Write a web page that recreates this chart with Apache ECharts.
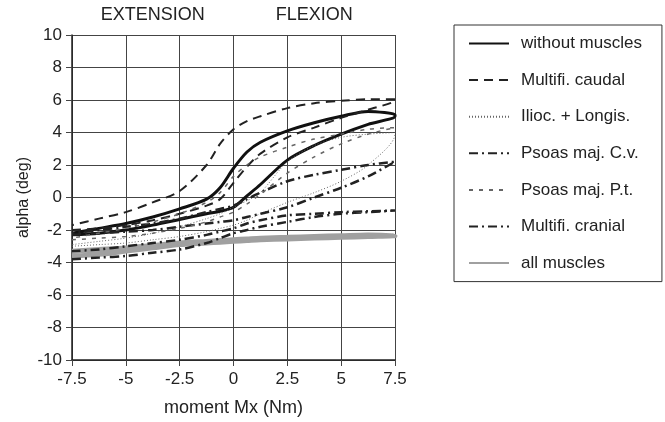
<!DOCTYPE html>
<html>
<head>
<meta charset="utf-8">
<script src="https://cdn.jsdelivr.net/npm/echarts@6/dist/echarts.min.js"></script>
<style>html,body{margin:0;padding:0;background:#fff}#c{width:665px;height:422px}</style>
</head>
<body>
<div id="c"></div>
<script>
// moment Mx (Nm) sample positions (shared by all curves)
var moments = [-7.5,-6.25,-5,-3.75,-2.5,-1.25,-0.625,0,0.625,1.25,2.5,3.75,5,6.25,7.5];
// alpha (deg): loading branch (from -7.5 to 7.5) and unloading branch (same x order)
var noMuscLoad   = [-2.3,-2.2,-2.0,-1.7,-1.35,-1.0,-0.85,-0.6,0.1,0.8,2.3,3.2,3.9,4.5,5.0];
var noMuscUnload = [-2.2,-1.9,-1.6,-1.2,-0.7,-0.1,0.6,1.8,2.8,3.4,4.1,4.6,5.0,5.3,5.1];
var mfCaudLoad   = [-2.0,-1.9,-1.7,-1.4,-1.0,-0.5,-0.1,0.9,1.9,2.7,3.7,4.3,4.9,5.4,6.0];
var mfCaudUnload = [-1.7,-1.3,-0.9,-0.3,0.4,2.0,3.3,4.2,4.7,5.0,5.5,5.8,5.95,6.05,6.05];
var iliocLoad    = [-3.0,-2.9,-2.8,-2.6,-2.4,-2.1,-1.9,-1.7,-1.4,-1.0,-0.3,0.3,1.0,2.0,3.9];
var iliocUnload  = [-2.9,-2.7,-2.5,-2.2,-1.8,-1.3,-1.0,-0.6,-0.2,0.3,2.2,3.2,3.7,3.9,4.0];
var psCvLoad     = [-2.3,-2.2,-2.1,-2.0,-1.8,-1.6,-1.5,-1.4,-1.2,-1.0,-0.6,0.0,0.6,1.3,2.2];
var psCvUnload   = [-2.2,-2.0,-1.8,-1.6,-1.3,-0.9,-0.7,-0.5,-0.1,0.3,1.0,1.4,1.7,2.0,2.2];
var psPtLoad     = [-2.6,-2.5,-2.4,-2.2,-1.9,-1.5,-1.2,-0.9,-0.4,0.2,1.5,2.5,3.3,3.9,4.3];
var psPtUnload   = [-2.5,-2.2,-1.9,-1.5,-1.0,-0.3,0.3,1.3,2.0,2.5,3.1,3.6,3.9,4.2,4.3];
var mfCranLoad   = [-3.8,-3.7,-3.6,-3.4,-3.2,-2.8,-2.5,-2.2,-2.0,-1.8,-1.5,-1.2,-1.0,-0.9,-0.8];
var mfCranUnload = [-3.3,-3.2,-3.0,-2.8,-2.6,-2.3,-2.1,-1.9,-1.6,-1.4,-1.1,-1.0,-0.9,-0.85,-0.8];
var allMuscLoad  = [-3.6,-3.5,-3.3,-3.1,-2.9,-2.8,-2.75,-2.7,-2.65,-2.6,-2.55,-2.5,-2.45,-2.4,-2.35];
var allMuscUnload= [-3.3,-3.2,-3.1,-2.95,-2.8,-2.7,-2.65,-2.6,-2.55,-2.5,-2.45,-2.4,-2.35,-2.3,-2.35];
var seriesNames = ['without muscles','Multifi. caudal','Ilioc. + Longis.','Psoas maj. C.v.','Psoas maj. P.t.','Multifi. cranial','all muscles'];
var yTicks = [-10,-8,-6,-4,-2,0,2,4,6,8,10];
var xTicks = [-7.5,-5,-2.5,0,2.5,5,7.5];
var regionLabels = ['EXTENSION','FLEXION'];
var regionCenters = [-3.75, 3.75];

function loop(load, unload){
  var d = [];
  for (var i=0;i<moments.length;i++) d.push([moments[i], load[i]]);
  for (var j=moments.length-1;j>=0;j--) d.push([moments[j], unload[j]]);
  return d;
}
var styles = [
  {color:'#111', width:3, type:'solid'},
  {color:'#222', width:2, type:[9,6]},
  {color:'#666', width:1, type:[1,2]},
  {color:'#222', width:2.5, type:[9,4,2,4]},
  {color:'#666', width:1.5, type:[4,6]},
  {color:'#222', width:2.5, type:[9,4,2,4]},
  {color:'#a0a0a0', width:5, type:'solid'}
];
var loops = [
  loop(noMuscLoad,noMuscUnload), loop(mfCaudLoad,mfCaudUnload), loop(iliocLoad,iliocUnload),
  loop(psCvLoad,psCvUnload), loop(psPtLoad,psPtUnload), loop(mfCranLoad,mfCranUnload),
  loop(allMuscLoad,allMuscUnload)
];
var font = '"Liberation Sans", Arial, sans-serif';
var series = seriesNames.map(function(n,i){
  return {name:n, type:'line', data:loops[i], symbol:'none', smooth:0.3,
    z: i===6 ? 1 : 3,
    lineStyle:{color:styles[i].color, width:styles[i].width, type:styles[i].type},
    itemStyle:{color:styles[i].color}};
});
var chart = echarts.init(document.getElementById('c'), null, {renderer:'canvas'});
chart.setOption({
  animation:false,
  grid:{left:72, right:270, top:35, bottom:57},
  legend:{orient:'vertical', left:454, top:25, data:seriesNames,
    itemWidth:40, itemHeight:16, itemGap:19.6,
    itemStyle:{opacity:0},
    padding:[10,20,10,14], borderColor:'#333', borderWidth:1,
    textStyle:{fontFamily:font, fontSize:17, lineHeight:16, color:'#222', padding:[0,0,0,7]}},
  xAxis:{type:'value', min:-7.5, max:7.5, interval:2.5,
    name:'moment Mx (Nm)', nameLocation:'middle', nameGap:39,
    nameTextStyle:{fontFamily:font, fontSize:18, color:'#222'},
    axisLine:{show:true, onZero:false, lineStyle:{color:'#222', width:1.5}},
    axisTick:{show:true, length:6, lineStyle:{color:'#444'}},
    axisLabel:{fontFamily:font, fontSize:17, color:'#222', margin:11,
      formatter:function(v){ return xTicks.indexOf(v)>=0 ? String(v) : ''; }},
    splitLine:{show:true, lineStyle:{color:'#444', width:1}}},
  yAxis:{type:'value', min:-10, max:10, interval:2,
    name:'alpha (deg)', nameLocation:'middle', nameGap:40, nameRotate:90,
    nameTextStyle:{fontFamily:font, fontSize:16, color:'#222'},
    axisLine:{show:true, onZero:false, lineStyle:{color:'#222', width:1.5}},
    axisTick:{show:true, length:6, lineStyle:{color:'#444'}},
    axisLabel:{fontFamily:font, fontSize:17, color:'#222', margin:10,
      formatter:function(v){ return yTicks.indexOf(v)>=0 ? String(v) : ''; }},
    splitLine:{show:true, lineStyle:{color:'#444', width:1}}},
  series:series
});
var gfx = regionLabels.map(function(t,i){
  var p = chart.convertToPixel({gridIndex:0}, [regionCenters[i], 10]);
  return {type:'text', x:p[0], y:15, style:{text:t, fontFamily:font, fontSize:18, fill:'#222', align:'center', verticalAlign:'middle'}};
});
chart.setOption({graphic:gfx});
</script>
</body>
</html>
